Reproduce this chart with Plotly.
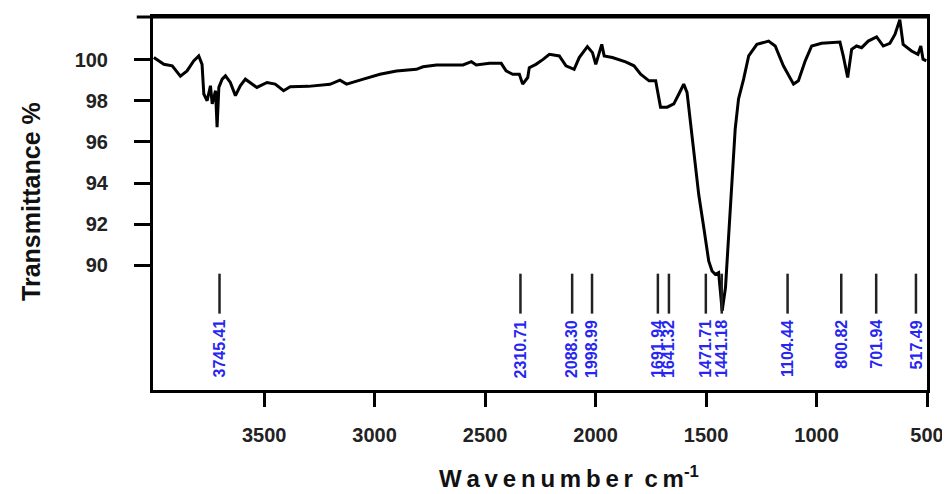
import plotly.graph_objects as go

# FTIR spectrum
wavenumber = [3999, 3954, 3916, 3879, 3849, 3819, 3796, 3781, 3773, 3758, 3743, 3735, 3720, 3713,
              3705, 3690, 3675, 3653, 3630, 3608, 3585, 3563, 3533, 3487, 3450, 3412, 3382, 3300,
              3202, 3157, 3127, 3051, 2976, 2901, 2811, 2781, 2720, 2600, 2562, 2540, 2480, 2427,
              2405, 2375, 2345, 2330, 2307, 2300, 2270, 2239, 2209, 2164, 2134, 2097, 2074, 2037,
              2014, 1999, 1984, 1972, 1961, 1924, 1864, 1826, 1796, 1758, 1728, 1706, 1676, 1646,
              1623, 1601, 1586, 1570, 1555, 1533, 1510, 1488, 1473, 1458, 1443, 1427, 1412, 1398,
              1383, 1368, 1353, 1330, 1307, 1270, 1217, 1187, 1150, 1104, 1082, 1051, 1022, 977,
              894, 879, 859, 841, 819, 796, 766, 728, 698, 668, 645, 623, 608, 570, 541, 528, 518, 503]
transmittance = [100.1, 99.77, 99.7, 99.2, 99.45, 99.94, 100.18, 99.77, 98.33, 98.0, 98.73, 97.85, 98.49, 96.72,
                 98.65, 99.05, 99.21, 98.89, 98.25, 98.73, 99.05, 98.89, 98.65, 98.89, 98.81, 98.49, 98.68, 98.7,
                 98.8, 99.0, 98.81, 99.05, 99.29, 99.45, 99.53, 99.65, 99.74, 99.74, 99.9, 99.74, 99.82, 99.82,
                 99.45, 99.29, 99.29, 98.81, 99.13, 99.61, 99.77, 100.0, 100.26, 100.18, 99.7, 99.53, 100.1, 100.63,
                 100.34, 99.77, 100.34, 100.74, 100.18, 100.1, 99.89, 99.7, 99.29, 98.97, 98.97, 97.69, 97.69, 97.85,
                 98.33, 98.81, 98.41, 96.96, 95.36, 93.43, 91.82, 90.22, 89.73, 89.57, 89.65, 87.8, 88.93, 91.34,
                 93.75, 96.64, 98.09, 99.05, 100.18, 100.74, 100.9, 100.66, 99.7, 98.81, 98.97, 99.94, 100.66, 100.79,
                 100.85, 100.18, 99.13, 100.5, 100.66, 100.58, 100.9, 101.1, 100.66, 100.79, 101.22, 101.94, 100.74,
                 100.42, 100.26, 100.66, 100.02, 99.94]

# Peak labels and the positions where their markers are drawn in the picture
peak_labels = ["3745.41", "2310.71", "2088.30", "1998.99", "1691.94", "1641.32",
               "1471.71", "1441.18", "1104.44", "800.82", "701.94", "517.49"]
peak_marker_x = [3702, 2340, 2106, 2016, 1718, 1668, 1501, 1429, 1131, 888, 730, 550]
marker_top = 89.6
marker_bottom = 87.66
label_top = 87.45

x_ticks = [3500, 3000, 2500, 2000, 1500, 1000, 500]
y_ticks = [90, 92, 94, 96, 98, 100]

FONT = "Liberation Sans, Arial, sans-serif"

fig = go.Figure()
fig.add_trace(go.Scatter(x=wavenumber, y=transmittance, mode="lines",
                         line=dict(color="black", width=3), hoverinfo="skip"))

mx, my = [], []
for p in peak_marker_x:
    mx += [p, p, None]
    my += [marker_top, marker_bottom, None]
fig.add_trace(go.Scatter(x=mx, y=my, mode="lines",
                         line=dict(color="#222222", width=2.5), hoverinfo="skip"))

for p, lab in zip(peak_marker_x, peak_labels):
    fig.add_annotation(x=p, y=label_top, xref="x", yref="y", text=lab, showarrow=False,
                       textangle=-90, xanchor="center", yanchor="top",
                       font=dict(family=FONT, size=16, color="#2626f0", weight="bold"))

ts = "\u2009"
xtitle = ts.join(list("Wavenumber")) + " " + ts + ts.join(list("cm")) + "<sup>-1</sup>"
fig.add_annotation(xref="paper", yref="paper", x=0.537, y=-0.234, text=xtitle, showarrow=False,
                   xanchor="center", yanchor="middle",
                   font=dict(family=FONT, size=24, color="#111111", weight="bold"))
fig.add_annotation(xref="paper", yref="paper", x=-0.1585, y=0.505, text="Transmittance %",
                   showarrow=False, textangle=-90, xanchor="center", yanchor="middle",
                   font=dict(family=FONT, size=25, color="#111111", weight="bold"))

# top frame line extends slightly left of the y axis
fig.add_shape(type="line", xref="paper", yref="paper", x0=-0.021, x1=1, y0=1, y1=1,
              line=dict(color="black", width=3))

# the page adds an 8px body margin, so the figure is shifted up-left by 8px
fig.update_layout(
    width=942, height=486,
    margin=dict(l=145, r=21, t=6, b=104),
    paper_bgcolor="white", plot_bgcolor="white",
    showlegend=False,
    font=dict(family=FONT, color="#222222"),
)
fig.update_xaxes(range=[4003, 500], tickvals=x_ticks, ticktext=[str(v) for v in x_ticks],
                 showgrid=False, zeroline=False, showline=True, linecolor="black", linewidth=3,
                 mirror=True, ticks="outside", ticklen=14, tickwidth=3, tickcolor="black",
                 ticklabelstandoff=11,
                 tickfont=dict(family=FONT, size=20, color="#222222", weight="bold"))
fig.update_yaxes(range=[83.95, 102.07], tickvals=y_ticks, ticktext=[str(v) for v in y_ticks],
                 showgrid=False, zeroline=False, showline=True, linecolor="black", linewidth=3,
                 mirror=True, ticks="outside", ticklen=16, tickwidth=3, tickcolor="black",
                 ticklabelstandoff=22,
                 tickfont=dict(family=FONT, size=20, color="#222222", weight="bold"))

fig.write_html("out.html")
